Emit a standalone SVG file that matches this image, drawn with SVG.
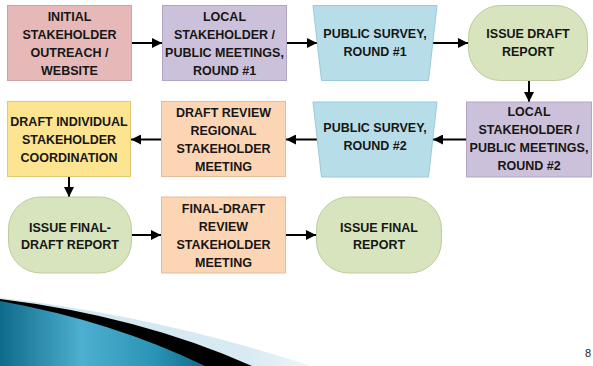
<svg xmlns="http://www.w3.org/2000/svg" width="593" height="366" viewBox="0 0 593 366">
<defs>
<style>
.t{font-family:"Liberation Sans",Arial,sans-serif;font-weight:bold;font-size:12.5px;fill:#161616;text-anchor:middle}
.c{stroke:#000;stroke-width:2;fill:none;marker-end:url(#ah)}
.pink{fill:#e6b9b8;stroke:#cfa3a2;stroke-width:1}
.lav{fill:#ccc1da;stroke:#b2a5c4;stroke-width:1}
.blue{fill:#b7dee8;stroke:#98cadb;stroke-width:1}
.green{fill:#d7e4bd;stroke:#bccc9c;stroke-width:1}
.peach{fill:#fcd5b5;stroke:#e6bc98;stroke-width:1}
.yel{fill:#fde491;stroke:#e3c872;stroke-width:1}
</style>
<marker id="ah" viewBox="0 0 10 10" refX="10" refY="5" markerWidth="5" markerHeight="5" orient="auto" markerUnits="strokeWidth">
<path d="M0,0 L10,5 L0,10 z" fill="#000"/>
</marker>
<linearGradient id="teal" x1="0" y1="0" x2="1" y2="0">
<stop offset="0" stop-color="#0f6b8a"/>
<stop offset="0.4" stop-color="#4eafcf"/>
<stop offset="0.75" stop-color="#2b94b6"/>
<stop offset="1" stop-color="#0f6c8b"/>
</linearGradient>
<linearGradient id="pale" x1="0" y1="0" x2="1" y2="0">
<stop offset="0" stop-color="#cfe5ef"/>
<stop offset="0.8" stop-color="#d9ebf2"/>
<stop offset="1" stop-color="#eef6f9"/>
</linearGradient>
</defs>

<g id="decoration">
<path d="M0,298 Q150,314 312,366 L0,366 Z" fill="url(#pale)"/>
<path d="M0,299 Q140,316 252,366 L0,366 Z" fill="#000"/>
<path d="M0,301 Q112,321 205,366 L0,366 Z" fill="url(#teal)"/>
</g>

<g id="connectors">
<line class="c" x1="132" y1="43" x2="162" y2="43"/>
<line class="c" x1="287" y1="43" x2="317" y2="43"/>
<line class="c" x1="433" y1="43" x2="468" y2="43"/>
<line class="c" x1="529" y1="80" x2="529" y2="102"/>
<line class="c" x1="466" y1="139.5" x2="433" y2="139.5"/>
<line class="c" x1="317" y1="139.5" x2="286" y2="139.5"/>
<line class="c" x1="161" y1="139.5" x2="131" y2="139.5"/>
<line class="c" x1="69" y1="177" x2="69" y2="197"/>
<line class="c" x1="132" y1="235" x2="161" y2="235"/>
<line class="c" x1="286" y1="235" x2="316" y2="235"/>
</g>

<g id="n1">
<rect class="pink" x="7.5" y="5.5" width="124" height="75"/>
<text class="t" x="69.5" y="20.5">INITIAL</text>
<text class="t" x="69.5" y="38.5">STAKEHOLDER</text>
<text class="t" x="69.5" y="56.5">OUTREACH /</text>
<text class="t" x="69.5" y="74.5">WEBSITE</text>
</g>

<g id="n2">
<rect class="lav" x="162.5" y="5.5" width="124" height="75"/>
<text class="t" x="224.5" y="20.5">LOCAL</text>
<text class="t" x="224.5" y="38.5">STAKEHOLDER /</text>
<text class="t" x="224.5" y="56.5">PUBLIC MEETINGS,</text>
<text class="t" x="224.5" y="74.5">ROUND #1</text>
</g>

<g id="n3">
<path class="blue" d="M313,5.5 L437,5.5 L428.5,80.5 L321.5,80.5 Z"/>
<text class="t" x="375" y="38">PUBLIC SURVEY,</text>
<text class="t" x="375" y="55.5">ROUND #1</text>
</g>

<g id="n4">
<rect class="green" x="468.5" y="5.5" width="119" height="75" rx="32" ry="32"/>
<text class="t" x="528" y="38">ISSUE DRAFT</text>
<text class="t" x="528" y="55.5">REPORT</text>
</g>

<g id="n5">
<rect class="lav" x="466.5" y="102" width="125" height="75"/>
<text class="t" x="529" y="116">LOCAL</text>
<text class="t" x="529" y="134">STAKEHOLDER /</text>
<text class="t" x="529" y="152">PUBLIC MEETINGS,</text>
<text class="t" x="529" y="170">ROUND #2</text>
</g>

<g id="n6">
<path class="blue" d="M313,102 L437,102 L428.5,177 L321.5,177 Z"/>
<text class="t" x="375" y="131.5">PUBLIC SURVEY,</text>
<text class="t" x="375" y="149.5">ROUND #2</text>
</g>

<g id="n7">
<rect class="peach" x="161.5" y="101.5" width="124" height="75"/>
<text class="t" x="223.5" y="116.5">DRAFT REVIEW</text>
<text class="t" x="223.5" y="134.5">REGIONAL</text>
<text class="t" x="223.5" y="152.5">STAKEHOLDER</text>
<text class="t" x="223.5" y="170.5">MEETING</text>
</g>

<g id="n8">
<rect class="yel" x="7.5" y="101.5" width="123" height="75"/>
<text class="t" x="69" y="126">DRAFT INDIVIDUAL</text>
<text class="t" x="69" y="144">STAKEHOLDER</text>
<text class="t" x="69" y="162">COORDINATION</text>
</g>

<g id="n9">
<rect class="green" x="8.5" y="197" width="123" height="76" rx="32" ry="32"/>
<text class="t" x="70" y="231.5">ISSUE FINAL-</text>
<text class="t" x="70" y="249">DRAFT REPORT</text>
</g>

<g id="n10">
<rect class="peach" x="161.5" y="197" width="124" height="76"/>
<text class="t" x="223.5" y="213">FINAL-DRAFT</text>
<text class="t" x="223.5" y="231">REVIEW</text>
<text class="t" x="223.5" y="249">STAKEHOLDER</text>
<text class="t" x="223.5" y="267">MEETING</text>
</g>

<g id="n11">
<rect class="green" x="316.5" y="197" width="125" height="76" rx="32" ry="32"/>
<text class="t" x="379" y="231.5">ISSUE FINAL</text>
<text class="t" x="379" y="249">REPORT</text>
</g>

<text x="585" y="357" style="font-family:'Liberation Sans',Arial,sans-serif;font-size:11px;fill:#222">8</text>
</svg>
